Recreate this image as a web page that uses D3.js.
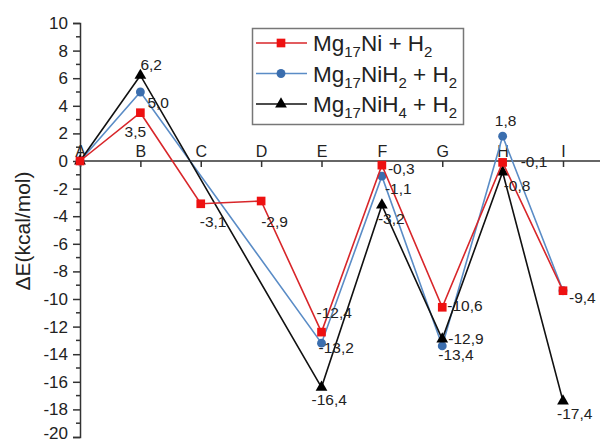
<!DOCTYPE html>
<html>
<head>
<meta charset="utf-8">
<script src="https://cdn.jsdelivr.net/npm/d3@7"></script>
<style>
  html, body { margin: 0; padding: 0; background: #fff; }
  svg { display: block; font-family: "Liberation Sans", Arial, sans-serif; }
</style>
</head>
<body>
<svg id="chart" width="600" height="443"></svg>
<script>
// Reaction path steps
const categories = ["A", "B", "C", "D", "E", "F", "G", "H", "I"];

// Energies along the path (kcal/mol); null = no intermediate at that step
const mg17Ni   = [0, 3.5, -3.1, -2.9, -12.4, -0.3, -10.6, -0.1, -9.4];
const mg17NiH2 = [0, 5.0, null, null, -13.2, -1.1, -13.4, 1.8, -9.4];
const mg17NiH4 = [0, 6.2, null, null, -16.4, -3.2, -12.9, -0.8, -17.4];

// Legend names as [text, isSubscript] pieces
const seriesNames = [
  [["Mg", 0], ["17", 1], ["Ni + H", 0], ["2", 1]],
  [["Mg", 0], ["17", 1], ["NiH", 0], ["2", 1], [" + H", 0], ["2", 1]],
  [["Mg", 0], ["17", 1], ["NiH", 0], ["4", 1], [" + H", 0], ["2", 1]]
];

const yTicks = [10, 8, 6, 4, 2, 0, -2, -4, -6, -8, -10, -12, -14, -16, -18, -20];
const yTitle = "ΔE(kcal/mol)";

// Placement of each value label relative to its marker: [dx, dy, anchor]
const labelPlacement = {
  ni: {1: [-5, 24, "middle"], 2: [-1, 23, "start"], 3: [0, 26, "start"], 4: [-5, -14, "start"],
       5: [6, 9, "start"], 6: [5, 4, "start"], 7: [18, 5, "start"]},
  nih2: {1: [7, 16, "start"], 4: [-3, 10, "start"], 5: [3, 18, "start"], 6: [-4, 14, "start"],
         7: [3, -10, "middle"], 8: [6, 12, "start"]},
  nih4: {1: [0, -5, "start"], 4: [-10, 18, "start"], 5: [-4, 19, "start"], 6: [6, 5, "start"],
         7: [1, 19, "start"], 8: [-6, 18, "start"]}
};

const series = [
  {key: "nih2", values: mg17NiH2, line: "#5a8cc6", fill: "#3b6eae", shape: d3.symbolCircle, size: 62},
  {key: "nih4", values: mg17NiH4, line: "#111111", fill: "#000000", shape: d3.symbolTriangle, size: 60},
  {key: "ni",   values: mg17Ni,   line: "#d8262a", fill: "#ee1111", shape: d3.symbolSquare, size: 75}
];
const legendOrder = ["ni", "nih2", "nih4"];

const svg = d3.select("#chart");
const plotLeft = 80, plotRight = 563, plotTop = 23, plotBottom = 437;

const x = d3.scalePoint().domain(categories).range([plotLeft, plotRight]);
const y = d3.scaleLinear().domain([-20, 10]).range([plotBottom, plotTop]);

const axisColor = "#333";

// Y axis with labelled major ticks
const yAxis = svg.append("g")
  .attr("transform", `translate(${plotLeft},0)`)
  .call(d3.axisLeft(y).tickValues(yTicks).tickSize(7).tickPadding(5).tickFormat(d3.format("d")));
yAxis.select(".domain").attr("stroke", axisColor).attr("stroke-width", 1.5);
yAxis.selectAll(".tick line").attr("stroke", axisColor).attr("stroke-width", 1.5);
yAxis.selectAll(".tick text").attr("font-size", 17).attr("fill", "#222")
  .attr("font-family", "'Liberation Sans', Arial, sans-serif")
  .attr("dy", d => d === -20 ? "0.1em" : "0.32em")
  .text(d => d < 0 ? "-" + Math.abs(d) : d);

// Minor ticks at odd values
const minor = d3.range(-19, 10, 2);
svg.append("g").selectAll("line").data(minor).join("line")
  .attr("x1", plotLeft - 4).attr("x2", plotLeft)
  .attr("y1", d => y(d)).attr("y2", d => y(d))
  .attr("stroke", axisColor).attr("stroke-width", 1.5);

// Y title
svg.append("text")
  .attr("transform", "translate(30,231) rotate(-90)")
  .attr("text-anchor", "middle")
  .attr("font-size", 21)
  .attr("fill", "#222")
  .text(yTitle);

// Zero line carrying the step names
const xAxis = svg.append("g")
  .attr("transform", `translate(0,${y(0)})`)
  .call(d3.axisBottom(x).tickSize(6).tickSizeOuter(0));
xAxis.select(".domain").remove();
xAxis.selectAll(".tick line").attr("stroke", axisColor).attr("stroke-width", 1.5);
xAxis.selectAll(".tick text")
  .attr("y", -4).attr("dy", 0)
  .attr("font-size", 16).attr("fill", "#222")
  .attr("font-family", "'Liberation Sans', Arial, sans-serif");
svg.append("line")
  .attr("x1", plotLeft).attr("x2", 600)
  .attr("y1", y(0)).attr("y2", y(0))
  .attr("stroke", axisColor).attr("stroke-width", 1.5);

// Series lines and markers
const line = d3.line()
  .x(d => x(d.cat))
  .y(d => y(d.v));

series.forEach(s => {
  const pts = s.values.map((v, i) => ({cat: categories[i], v, i})).filter(d => d.v !== null);
  const g = svg.append("g");
  g.append("path")
    .datum(pts)
    .attr("d", line)
    .attr("fill", "none")
    .attr("stroke", s.line)
    .attr("stroke-width", 1.6);
  g.selectAll("path.m").data(pts).join("path")
    .attr("class", "m")
    .attr("transform", d => `translate(${x(d.cat)},${y(d.v)})`)
    .attr("d", d3.symbol().type(s.shape).size(s.size))
    .attr("fill", s.fill);
});

// Value labels (decimal comma)
const fmt = v => d3.format(".1f")(v).replace(".", ",").replace("−", "-");
series.forEach(s => {
  const place = labelPlacement[s.key];
  s.values.forEach((v, i) => {
    if (v === null || !place[i]) return;
    const [dx, dy, anchor] = place[i];
    svg.append("text")
      .attr("x", x(categories[i]) + dx)
      .attr("y", y(v) + dy)
      .attr("text-anchor", anchor)
      .attr("font-size", 15.5)
      .attr("fill", "#222")
      .text(fmt(v));
  });
});

// Legend
const lg = svg.append("g");
lg.append("rect")
  .attr("x", 252.5).attr("y", 28.5).attr("width", 211).attr("height", 96)
  .attr("fill", "#fff").attr("stroke", "#777").attr("stroke-width", 1.5);
legendOrder.forEach((key, r) => {
  const s = series.find(d => d.key === key);
  const ry = 43 + r * 30.5;
  lg.append("line").attr("x1", 256).attr("x2", 307).attr("y1", ry).attr("y2", ry)
    .attr("stroke", s.line).attr("stroke-width", 1.6);
  lg.append("path").attr("transform", `translate(281,${ry})`)
    .attr("d", d3.symbol().type(s.shape).size(s.size)).attr("fill", s.fill);
  const t = lg.append("text").attr("x", 313).attr("y", ry + 8).attr("font-size", 22.5).attr("fill", "#222");
  let shifted = false;
  seriesNames[r].forEach(([txt, sub]) => {
    const sp = t.append("tspan").text(txt);
    if (sub) {
      sp.attr("font-size", 15).attr("dy", shifted ? 0 : 6);
      shifted = true;
    } else {
      sp.attr("dy", shifted ? -6 : 0);
      shifted = false;
    }
  });
});
</script>
</body>
</html>
